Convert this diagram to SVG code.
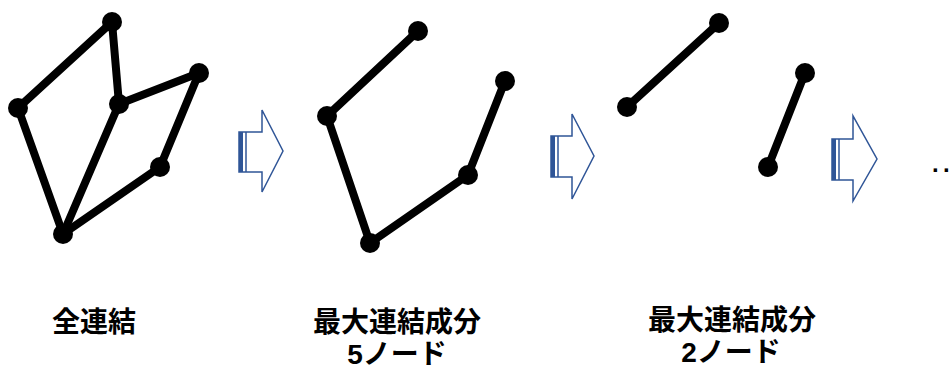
<svg xmlns="http://www.w3.org/2000/svg" width="952" height="369" viewBox="0 0 952 369">
<style>
.e{stroke:#000;stroke-width:8;stroke-linecap:round;fill:none}
.n{fill:#000}
.a{fill:#fff;stroke:#2F5597;stroke-width:1.5;stroke-linejoin:miter}
.b{fill:#2F5597}
.t{font-family:"Liberation Sans","Noto Sans CJK JP",sans-serif;font-weight:bold;font-size:28px;fill:#000;text-anchor:middle}
</style>
<rect width="952" height="369" fill="#fff"/>
<g id="connectors">
<line class="e" x1="112" y1="22" x2="18" y2="108"/>
<line class="e" x1="112" y1="22" x2="119" y2="104"/>
<line class="e" x1="119" y1="104" x2="199" y2="73"/>
<line class="e" x1="199" y1="73" x2="160" y2="167"/>
<line class="e" x1="160" y1="167" x2="63" y2="234"/>
<line class="e" x1="119" y1="104" x2="63" y2="234"/>
<line class="e" x1="18" y1="108" x2="63" y2="234"/>
<line class="e" x1="418" y1="31" x2="327" y2="116"/>
<line class="e" x1="327" y1="116" x2="370" y2="243"/>
<line class="e" x1="370" y1="243" x2="468" y2="175"/>
<line class="e" x1="468" y1="175" x2="505" y2="81"/>
<line class="e" x1="719" y1="23" x2="627" y2="107"/>
<line class="e" x1="805" y1="73" x2="768" y2="167"/>
</g>
<g id="g1">
<circle class="n" cx="112" cy="22" r="10"/>
<circle class="n" cx="18" cy="108" r="10"/>
<circle class="n" cx="119" cy="104" r="10"/>
<circle class="n" cx="199" cy="73" r="10"/>
<circle class="n" cx="160" cy="167" r="10"/>
<circle class="n" cx="63" cy="234" r="10"/>
</g>
<g id="g2">
<circle class="n" cx="418" cy="31" r="10"/>
<circle class="n" cx="327" cy="116" r="10"/>
<circle class="n" cx="505" cy="81" r="10"/>
<circle class="n" cx="468" cy="175" r="10"/>
<circle class="n" cx="370" cy="243" r="10"/>
</g>
<g id="g3">
<circle class="n" cx="719" cy="23" r="10"/>
<circle class="n" cx="627" cy="107" r="10"/>
<circle class="n" cx="805" cy="73" r="10"/>
<circle class="n" cx="768" cy="167" r="10"/>
</g>
<g id="arrow1">
<path class="a" d="M239,132 H262 V110 L283,151 L262,192 V172 H239 Z"/>
<rect class="b" x="239" y="132" width="4" height="40"/>
<line x1="246" y1="132" x2="246" y2="172" stroke="#2F5597" stroke-width="1.5"/>
</g>
<g id="arrow2">
<path class="a" d="M551,136 H572 V114 L594,156 L572,199 V177 H551 Z"/>
<rect class="b" x="551" y="136" width="4" height="41"/>
<line x1="558" y1="136" x2="558" y2="177" stroke="#2F5597" stroke-width="1.5"/>
</g>
<g id="arrow3">
<path class="a" d="M832,139 H853 V116 L877,159 L853,201 V180 H832 Z"/>
<rect class="b" x="832" y="139" width="4" height="41"/>
<line x1="839" y1="139" x2="839" y2="180" stroke="#2F5597" stroke-width="1.5"/>
</g>
<g id="labels">
<text class="t" x="94" y="332">全連結</text>
<text class="t" x="397" y="332">最大連結成分</text>
<text class="t" x="397" y="364">5ノード</text>
<text class="t" x="732" y="330">最大連結成分</text>
<text class="t" x="731" y="362">2ノード</text>
<text y="172" font-family="Liberation Sans,sans-serif" font-size="24" font-weight="bold" fill="#000"><tspan x="932">.</tspan><tspan x="943">.</tspan></text>
</g>
</svg>
